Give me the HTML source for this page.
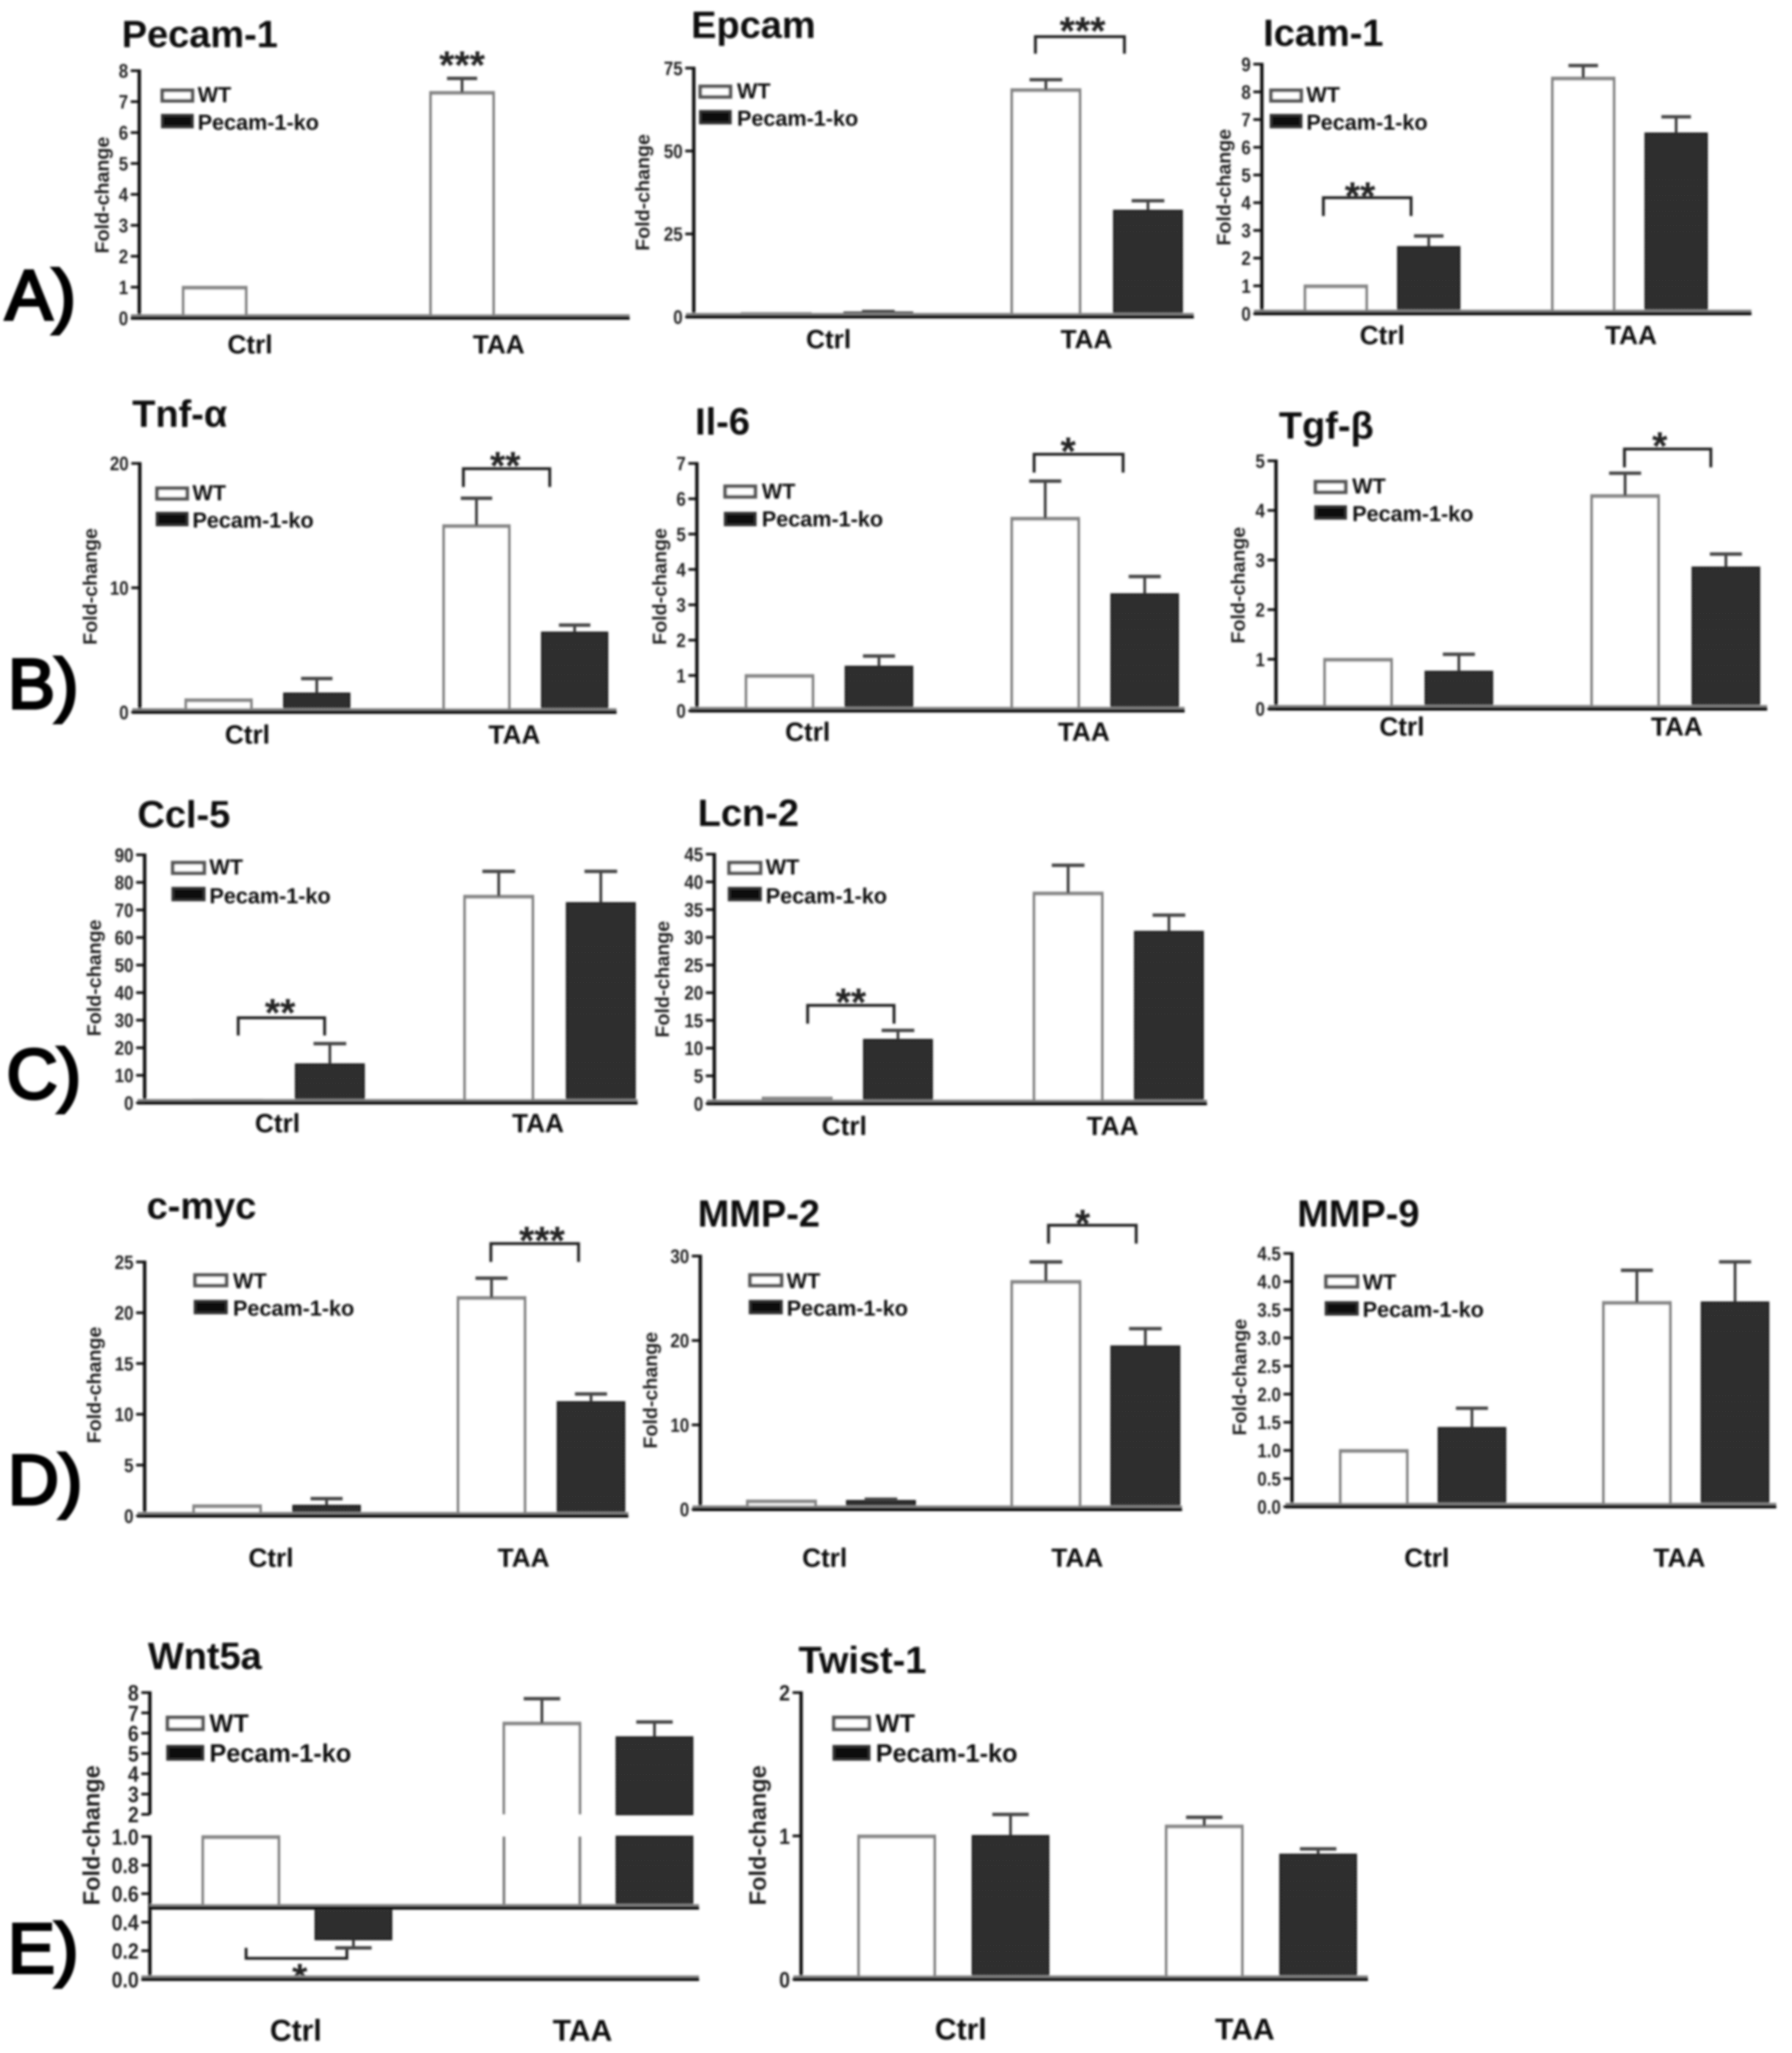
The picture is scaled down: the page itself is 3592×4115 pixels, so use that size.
<!DOCTYPE html>
<html lang="en">
<head>
<meta charset="utf-8">
<title>Fold-change bar chart panels</title>
<style>
html,body{margin:0;padding:0;background:#fff;}
svg{display:block;}
text{font-family:"Liberation Sans",sans-serif;font-weight:bold;fill:#0a0a0a;}
.title{font-size:29px;}
.ytitle{font-size:15px;fill:#222;text-anchor:middle;}
.ytitle-lg{font-size:18px;fill:#222;text-anchor:middle;}
.leg{font-size:16.5px;fill:#111;}
.leg-lg{font-size:19.3px;fill:#111;}
.stars{font-size:30px;fill:#222;text-anchor:middle;}
.letter{font-size:54px;fill:#000;font-weight:normal;stroke:#000;stroke-width:2.2px;}
.wtsw{fill:#fff;stroke:#555;stroke-width:2.8;}
.kosw{fill:#111;stroke:#333;stroke-width:2;}
.bracket{fill:none;stroke:#222;stroke-width:2.2;}
</style>
</head>
<body>
<svg id="fig" xmlns="http://www.w3.org/2000/svg" width="3592" height="4115" viewBox="0 0 1369 1568.3">
<defs>
<pattern id="dither" width="2.4" height="2.4" patternUnits="userSpaceOnUse">
<rect width="2.4" height="2.4" fill="#222"/>
<rect width="1.2" height="1.2" fill="#3a3a3a"/>
<rect x="1.2" y="1.2" width="1.2" height="1.2" fill="#3a3a3a"/>
</pattern>
<filter id="soft" filterUnits="userSpaceOnUse" x="0" y="0" width="1369" height="1569">
<feGaussianBlur stdDeviation="0.8"/>
</filter>
</defs>
<rect width="1369" height="1569" fill="#fff"/>
<g id="root" filter="url(#soft)">

<text class="letter" x="4" y="244">A)</text>
<text class="letter" x="6" y="541">B)</text>
<text class="letter" x="5" y="839">C)</text>
<text class="letter" x="6" y="1149">D)</text>
<text class="letter" x="6" y="1507">E)</text>

<g id="pecam">
<text class="title" x="93" y="36">Pecam-1</text>
<text class="ytitle" transform="translate(83,149) rotate(-90)">Fold-change</text>
<rect class="wtsw" x="124" y="69" width="23" height="8"/>
<text class="leg" x="151" y="78">WT</text>
<rect class="kosw" x="124" y="88" width="23" height="9"/>
<text class="leg" x="151" y="99">Pecam-1-ko</text>
<text class="stars" x="353" y="60">***</text>
</g>

<g id="epcam">
<text class="title" x="528" y="29">Epcam</text>
<text class="ytitle" transform="translate(496,147) rotate(-90)">Fold-change</text>
<rect class="wtsw" x="535" y="66" width="23" height="8"/>
<text class="leg" x="563" y="75">WT</text>
<rect class="kosw" x="535" y="85" width="23" height="9"/>
<text class="leg" x="563" y="96">Pecam-1-ko</text>
<path class="bracket" d="M791 41V28H859V41"/>
<text class="stars" x="827" y="34">***</text>
</g>

<g id="icam">
<text class="title" x="965" y="35">Icam-1</text>
<text class="ytitle" transform="translate(940,143) rotate(-90)">Fold-change</text>
<rect class="wtsw" x="971" y="69" width="23" height="8"/>
<text class="leg" x="998" y="78">WT</text>
<rect class="kosw" x="971" y="88" width="23" height="9"/>
<text class="leg" x="998" y="99">Pecam-1-ko</text>
<path class="bracket" d="M1011 165V151H1078V165"/>
<text class="stars" x="1039" y="160">**</text>
</g>

<g id="tnf">
<text class="title" x="101" y="326">Tnf-α</text>
<text class="ytitle" transform="translate(74,448) rotate(-90)">Fold-change</text>
<rect class="wtsw" x="120" y="373" width="23" height="8"/>
<text class="leg" x="147" y="382">WT</text>
<rect class="kosw" x="120" y="392" width="23" height="9"/>
<text class="leg" x="147" y="403">Pecam-1-ko</text>
<path class="bracket" d="M354 372V358H420V372"/>
<text class="stars" x="386" y="366">**</text>
</g>

<g id="il6">
<text class="title" x="531" y="332">Il-6</text>
<text class="ytitle" transform="translate(509,448) rotate(-90)">Fold-change</text>
<rect class="wtsw" x="554" y="371.5" width="23" height="8"/>
<text class="leg" x="582" y="381">WT</text>
<rect class="kosw" x="554" y="392" width="23" height="9"/>
<text class="leg" x="582" y="402">Pecam-1-ko</text>
<path class="bracket" d="M790 361V347H858V361"/>
<text class="stars" x="816" y="355">*</text>
</g>

<g id="tgf">
<text class="title" x="977" y="335">Tgf-β</text>
<text class="ytitle" transform="translate(951,447) rotate(-90)">Fold-change</text>
<rect class="wtsw" x="1005" y="368" width="23" height="8"/>
<text class="leg" x="1033" y="377">WT</text>
<rect class="kosw" x="1005" y="387" width="23" height="9"/>
<text class="leg" x="1033" y="398">Pecam-1-ko</text>
<path class="bracket" d="M1241 357V343H1307V357"/>
<text class="stars" x="1268" y="351">*</text>
</g>

<g id="ccl">
<text class="title" x="105" y="632">Ccl-5</text>
<text class="ytitle" transform="translate(77,747) rotate(-90)">Fold-change</text>
<rect class="wtsw" x="132" y="659" width="24" height="8"/>
<text class="leg" x="160" y="668">WT</text>
<rect class="kosw" x="132" y="678.5" width="24" height="9"/>
<text class="leg" x="160" y="690">Pecam-1-ko</text>
<path class="bracket" d="M182 791V777.5H248V791"/>
<text class="stars" x="214" y="784">**</text>
</g>

<g id="lcn">
<text class="title" x="533" y="631">Lcn-2</text>
<text class="ytitle" transform="translate(511,748) rotate(-90)">Fold-change</text>
<rect class="wtsw" x="557" y="659" width="24" height="8"/>
<text class="leg" x="585" y="668">WT</text>
<rect class="kosw" x="557" y="678.5" width="24" height="9"/>
<text class="leg" x="585" y="690">Pecam-1-ko</text>
<path class="bracket" d="M617 782V768H683V782"/>
<text class="stars" x="650" y="776">**</text>
</g>

<g id="myc">
<text class="title" x="112" y="931">c-myc</text>
<text class="ytitle" transform="translate(77,1058) rotate(-90)">Fold-change</text>
<rect class="wtsw" x="149" y="974" width="24" height="8"/>
<text class="leg" x="178" y="984">WT</text>
<rect class="kosw" x="149" y="994" width="24" height="9"/>
<text class="leg" x="178" y="1005">Pecam-1-ko</text>
<path class="bracket" d="M375 964V950H442V964"/>
<text class="stars" x="414" y="958">***</text>
</g>

<g id="mmp2">
<text class="title" x="533" y="937">MMP-2</text>
<text class="ytitle" transform="translate(502,1062) rotate(-90)">Fold-change</text>
<rect class="wtsw" x="573" y="974" width="24" height="8"/>
<text class="leg" x="601" y="984">WT</text>
<rect class="kosw" x="573" y="994" width="24" height="9"/>
<text class="leg" x="601" y="1005">Pecam-1-ko</text>
<path class="bracket" d="M801 950V936H868V950"/>
<text class="stars" x="827" y="945">*</text>
</g>

<g id="mmp9">
<text class="title" x="991" y="937">MMP-9</text>
<text class="ytitle" transform="translate(952,1052) rotate(-90)">Fold-change</text>
<rect class="wtsw" x="1013" y="975" width="24" height="8"/>
<text class="leg" x="1041" y="985">WT</text>
<rect class="kosw" x="1013" y="995" width="24" height="9"/>
<text class="leg" x="1041" y="1006">Pecam-1-ko</text>
</g>

<g id="wnt">
<text class="title" x="113" y="1275">Wnt5a</text>
<text class="ytitle-lg" transform="translate(76,1402) rotate(-90)">Fold-change</text>
<rect class="wtsw" x="128" y="1312" width="27" height="9"/>
<text class="leg-lg" x="160" y="1323">WT</text>
<rect class="kosw" x="128" y="1334" width="27" height="10"/>
<text class="leg-lg" x="160" y="1346">Pecam-1-ko</text>
<path class="bracket" d="M188 1488V1496H265V1487"/>
<text class="stars" x="229" y="1521">*</text>
</g>

<g id="twist">
<text class="title" x="610" y="1278">Twist-1</text>
<text class="ytitle-lg" transform="translate(585,1402) rotate(-90)">Fold-change</text>
<rect class="wtsw" x="637" y="1312" width="27" height="9"/>
<text class="leg-lg" x="669" y="1323">WT</text>
<rect class="kosw" x="637" y="1334" width="27" height="10"/>
<text class="leg-lg" x="669" y="1346">Pecam-1-ko</text>
</g>

</g>
</svg>
<script>
const categories = ['Ctrl', 'TAA'];

const pecamTicks = ['0','1','2','3','4','5','6','7','8'];
const pecamWt = [1, 7.3];
const pecamWtErr = [0, 0.45];
const pecamKo = [null, null];
const pecamKoErr = [0, 0];

const epcamTicks = ['0','25','50','75'];
const epcamWt = [1, 68.5];
const epcamWtErr = [0, 3];
const epcamKo = [1.3, 32];
const epcamKoErr = [0.3, 3];

const icamTicks = ['0','1','2','3','4','5','6','7','8','9'];
const icamWt = [1, 8.5];
const icamWtErr = [0, 0.45];
const icamKo = [2.4, 6.5];
const icamKoErr = [0.4, 0.6];

const tnfTicks = ['0','10','20'];
const tnfWt = [1, 15];
const tnfWtErr = [0, 2.2];
const tnfKo = [1.5, 6.4];
const tnfKoErr = [1.2, 0.6];

const il6Ticks = ['0','1','2','3','4','5','6','7'];
const il6Wt = [1, 5.45];
const il6WtErr = [0, 1.05];
const il6Ko = [1.25, 3.3];
const il6KoErr = [0.3, 0.5];

const tgfTicks = ['0','1','2','3','4','5'];
const tgfWt = [1, 4.3];
const tgfWtErr = [0, 0.45];
const tgfKo = [0.75, 2.85];
const tgfKoErr = [0.35, 0.27];

const cclTicks = ['0','10','20','30','40','50','60','70','80','90'];
const cclWt = [1, 75];
const cclWtErr = [0, 9];
const cclKo = [14, 72.5];
const cclKoErr = [7.5, 11.5];

const lcnTicks = ['0','5','10','15','20','25','30','35','40','45'];
const lcnWt = [1, 38];
const lcnWtErr = [0, 5];
const lcnKo = [11.5, 31];
const lcnKoErr = [1.7, 3];

const mycTicks = ['0','5','10','15','20','25'];
const mycWt = [1, 21.5];
const mycWtErr = [0, 1.9];
const mycKo = [1, 11.2];
const mycKoErr = [0.7, 0.8];

const mmp2Ticks = ['0','10','20','30'];
const mmp2Wt = [1, 27];
const mmp2WtErr = [0, 2.3];
const mmp2Ko = [1, 19.3];
const mmp2KoErr = [0.2, 2.1];

const mmp9Ticks = ['0.0','0.5','1.0','1.5','2.0','2.5','3.0','3.5','4.0','4.5'];
const mmp9Wt = [1, 3.63];
const mmp9WtErr = [0, 0.57];
const mmp9Ko = [1.4, 3.63];
const mmp9KoErr = [0.35, 0.72];

const wntLowerTicks = ['0.0','0.2','0.4','0.6','0.8','1.0'];
const wntUpperTicks = ['2','3','4','5','6','7','8'];
const wntWt = [1, 6.5];
const wntWtErr = [0, 1.2];
const wntKo = [0.28, 5.8];
const wntKoErr = [-0.06, 0.75];

const twistTicks = ['0','1','2'];
const twistWt = [1, 1.07];
const twistWtErr = [0, 0.06];
const twistKo = [1, 0.87];
const twistKoErr = [0.15, 0.04];

const NS = 'http://www.w3.org/2000/svg';

function shape(tag, attrs, parent) {
  const el = document.createElementNS(NS, tag);
  for (const k in attrs) el.setAttribute(k, attrs[k]);
  parent.appendChild(el);
  return el;
}

function linearAxis(ticks, y0, yTop) {
  const lo = parseFloat(ticks[0]);
  const hi = parseFloat(ticks[ticks.length - 1]);
  return v => y0 + (v - lo) / (hi - lo) * (yTop - y0);
}

function brokenAxis(lowerTicks, upperTicks, y0, yLowTop, yUpBottom, yTop) {
  const lower = linearAxis(lowerTicks, y0, yLowTop);
  const upper = linearAxis(upperTicks, yUpBottom, yTop);
  const loMax = parseFloat(lowerTicks[lowerTicks.length - 1]);
  const upMin = parseFloat(upperTicks[0]);
  return v => {
    if (v <= loMax) return lower(v);
    if (v >= upMin) return upper(v);
    return lower(loMax) + (v - loMax) / (upMin - loMax) * (upper(upMin) - lower(loMax));
  };
}

function drawSpine(g, x, yBottom, yTop) {
  const el = shape('line', {x1: x, x2: x, y1: yBottom, y2: yTop - 1, stroke: '#111', 'stroke-width': 2.6}, g);
  
  
}

function drawBaseline(g, y, x1, x2) {
  const halo = shape('line', {x1: x1, x2: x2, y1: y - 0.8, y2: y - 0.8, stroke: '#888', 'stroke-width': 4.4}, g);
  
  
  const el = shape('line', {x1: x1, x2: x2, y1: y, y2: y, stroke: '#000', 'stroke-width': 2.6}, g);
  
  
}

function drawTicks(g, labels, scale, axisX, size) {
  labels.forEach(label => {
    const y = scale(parseFloat(label));
    const tick = shape('line', {x1: axisX - 6.5, x2: axisX, y1: y, y2: y, stroke: '#111', 'stroke-width': 2}, g);
    
    
    const big = size * 1.13;
    const t = shape('text', {transform: 'translate(' + (axisX - 8.5) + ',' + (y + big * 0.36) + ') scale(0.88,1)', 'text-anchor': 'end', 'font-size': big, style: 'fill:#222'}, g);
    t.textContent = label;
    
    
  });
}

function drawBarShape(g, x, w, yBase, yVal, isKo) {
  if (isKo) {
    const top = Math.min(yBase, yVal);
    const r = shape('rect', {x: x, y: top, width: w, height: Math.abs(yBase - yVal), fill: 'url(#dither)', stroke: '#1c1c1c', 'stroke-width': 1.4}, g);
    
    
  } else {
    const d = 'M' + x + ' ' + yBase + 'V' + yVal + 'H' + (x + w) + 'V' + yBase;
    const p = shape('path', {d: d, fill: '#fff', stroke: '#777', 'stroke-width': 2}, g);
    
    
    const cap = shape('line', {x1: x, x2: x + w, y1: yVal + 0.5, y2: yVal + 0.5, stroke: '#888', 'stroke-width': 2.8}, g);
    
    
  }
}

function drawOpenSides(g, x, w, yFrom, yTo, isKo) {
  if (isKo) {
    const r = shape('rect', {x: x, y: yTo, width: w, height: yFrom - yTo, fill: 'url(#dither)', stroke: '#1c1c1c', 'stroke-width': 1.4}, g);
    
    
  } else {
    const d = 'M' + x + ' ' + yFrom + 'V' + yTo + 'M' + (x + w) + ' ' + yFrom + 'V' + yTo;
    const p = shape('path', {d: d, fill: 'none', stroke: '#777', 'stroke-width': 2}, g);
    
    
  }
}

function drawError(g, cx, yVal, yErr, capW) {
  const stem = shape('line', {x1: cx, x2: cx, y1: yVal, y2: yErr, stroke: '#333', 'stroke-width': 2}, g);
  
  
  const cap = shape('line', {x1: cx - capW / 2, x2: cx + capW / 2, y1: yErr, y2: yErr, stroke: '#444', 'stroke-width': 2.6}, g);
  
  
}

function drawSeries(g, scale, base, values, errs, box, offset, isKo) {
  values.forEach((v, i) => {
    if (v === null) return;
    const x = box.firstBar + offset + i * box.groupStep;
    const yV = scale(v);
    const cx = x + box.barW / 2;
    if (box.breakLow !== undefined && v > box.breakHigh) {
      drawBarShape(g, x, box.barW, scale(box.breakHigh), yV, isKo);
      drawOpenSides(g, x, box.barW, scale(base), scale(box.breakLow), isKo);
    } else {
      drawBarShape(g, x, box.barW, scale(base), yV, isKo);
    }
    if (errs[i] !== 0) drawError(g, cx, yV, scale(v + errs[i]), box.barW * 0.48);
  });
}

function drawCategories(g, box) {
  categories.forEach((c, i) => {
    const t = shape('text', {x: box.catX[i], y: box.catY, 'text-anchor': 'middle', 'font-size': box.catSize || 20}, g);
    t.textContent = c;
    
    
  });
}

function drawPanel(id, ticks, wt, wtErr, ko, koErr, box) {
  const g = document.getElementById(id);
  const scale = linearAxis(ticks, box.y0, box.yTop);
  const base = parseFloat(ticks[0]);
  drawSeries(g, scale, base, wt, wtErr, box, 0, false);
  drawSeries(g, scale, base, ko, koErr, box, box.pairStep, true);
  drawSpine(g, box.axisX, box.y0, box.yTop);
  drawBaseline(g, box.y0, box.lineFrom, box.lineTo);
  drawTicks(g, ticks, scale, box.axisX, box.tickSize || 13);
  drawCategories(g, box);
}

function drawBrokenPanel(id, lower, upper, wt, wtErr, ko, koErr, box) {
  const g = document.getElementById(id);
  const scale = brokenAxis(lower, upper, box.y0, box.yLowTop, box.yUpBottom, box.yTop);
  box.breakLow = parseFloat(lower[lower.length - 1]);
  box.breakHigh = parseFloat(upper[0]);
  drawSeries(g, scale, box.refLine, wt, wtErr, box, 0, false);
  drawSeries(g, scale, box.refLine, ko, koErr, box, box.pairStep, true);
  drawSpine(g, box.axisX, box.y0, box.yLowTop);
  drawSpine(g, box.axisX, box.yUpBottom, box.yTop);
  drawBaseline(g, box.y0, box.lineFrom, box.lineTo);
  drawBaseline(g, scale(box.refLine), box.axisX, box.lineTo);
  drawTicks(g, lower, scale, box.axisX, box.tickSize);
  drawTicks(g, upper, scale, box.axisX, box.tickSize);
  drawCategories(g, box);
}

drawPanel('pecam', pecamTicks, pecamWt, pecamWtErr, pecamKo, pecamKoErr,
  {axisX:106.4, y0:243, yTop:54, lineFrom:100, lineTo:481, firstBar:140, barW:48, pairStep:71, groupStep:189, catX:[191,381], catY:270});
drawPanel('epcam', epcamTicks, epcamWt, epcamWtErr, epcamKo, epcamKoErr,
  {axisX:530, y0:242, yTop:52, lineFrom:524, lineTo:912, firstBar:567, barW:52, pairStep:78, groupStep:206, catX:[633,830], catY:266});
drawPanel('icam', icamTicks, icamWt, icamWtErr, icamKo, icamKoErr,
  {axisX:964, y0:239.5, yTop:49, lineFrom:958, lineTo:1338, firstBar:997, barW:47, pairStep:71, groupStep:189, catX:[1056,1246], catY:263});
drawPanel('tnf', tnfTicks, tnfWt, tnfWtErr, tnfKo, tnfKoErr,
  {axisX:106.8, y0:544, yTop:354, lineFrom:101, lineTo:471, firstBar:142, barW:50, pairStep:75, groupStep:197, catX:[189,393], catY:568});
drawPanel('il6', il6Ticks, il6Wt, il6WtErr, il6Ko, il6KoErr,
  {axisX:532.4, y0:543, yTop:354, lineFrom:527, lineTo:905, firstBar:570, barW:51, pairStep:76, groupStep:203, catX:[617,828], catY:566});
drawPanel('tgf', tgfTicks, tgfWt, tgfWtErr, tgfKo, tgfKoErr,
  {axisX:974.8, y0:541.5, yTop:352, lineFrom:969, lineTo:1350, firstBar:1012, barW:51, pairStep:77, groupStep:204, catX:[1071,1281], catY:562});
drawPanel('ccl', cclTicks, cclWt, cclWtErr, cclKo, cclKoErr,
  {axisX:110.5, y0:842.5, yTop:653, lineFrom:105, lineTo:487, firstBar:148, barW:52, pairStep:78, groupStep:207, catX:[212,411], catY:865});
drawPanel('lcn', lcnTicks, lcnWt, lcnWtErr, lcnKo, lcnKoErr,
  {axisX:545.7, y0:843, yTop:652.5, lineFrom:540, lineTo:922, firstBar:583, barW:52, pairStep:77, groupStep:207, catX:[645,850], catY:867});
drawPanel('myc', mycTicks, mycWt, mycWtErr, mycKo, mycKoErr,
  {axisX:110.5, y0:1158, yTop:964, lineFrom:105, lineTo:480, firstBar:148, barW:51, pairStep:76, groupStep:202, catX:[207,400], catY:1197});
drawPanel('mmp2', mmp2Ticks, mmp2Wt, mmp2WtErr, mmp2Ko, mmp2KoErr,
  {axisX:535, y0:1153, yTop:959.5, lineFrom:529, lineTo:903, firstBar:571, barW:52, pairStep:76, groupStep:202, catX:[630,823], catY:1197});
drawPanel('mmp9', mmp9Ticks, mmp9Wt, mmp9WtErr, mmp9Ko, mmp9KoErr,
  {axisX:987, y0:1151, yTop:957.5, lineFrom:982, lineTo:1357, firstBar:1024, barW:51, pairStep:75, groupStep:201, catX:[1090,1283], catY:1197});
drawBrokenPanel('wnt', wntLowerTicks, wntUpperTicks, wntWt, wntWtErr, wntKo, wntKoErr,
  {axisX:114.5, y0:1512, yLowTop:1403, yUpBottom:1386, yTop:1293, refLine:0.5, lineFrom:108, lineTo:534, firstBar:155, barW:58, pairStep:86, groupStep:230, catX:[226,445], catY:1559, catSize:23, tickSize:15});
drawPanel('twist', twistTicks, twistWt, twistWtErr, twistKo, twistKoErr,
  {axisX:612, y0:1512, yTop:1293, lineFrom:606, lineTo:1045, firstBar:656, barW:58, pairStep:87, groupStep:235, catX:[734,951], catY:1558, catSize:23, tickSize:15});
</script>
</body>
</html>
